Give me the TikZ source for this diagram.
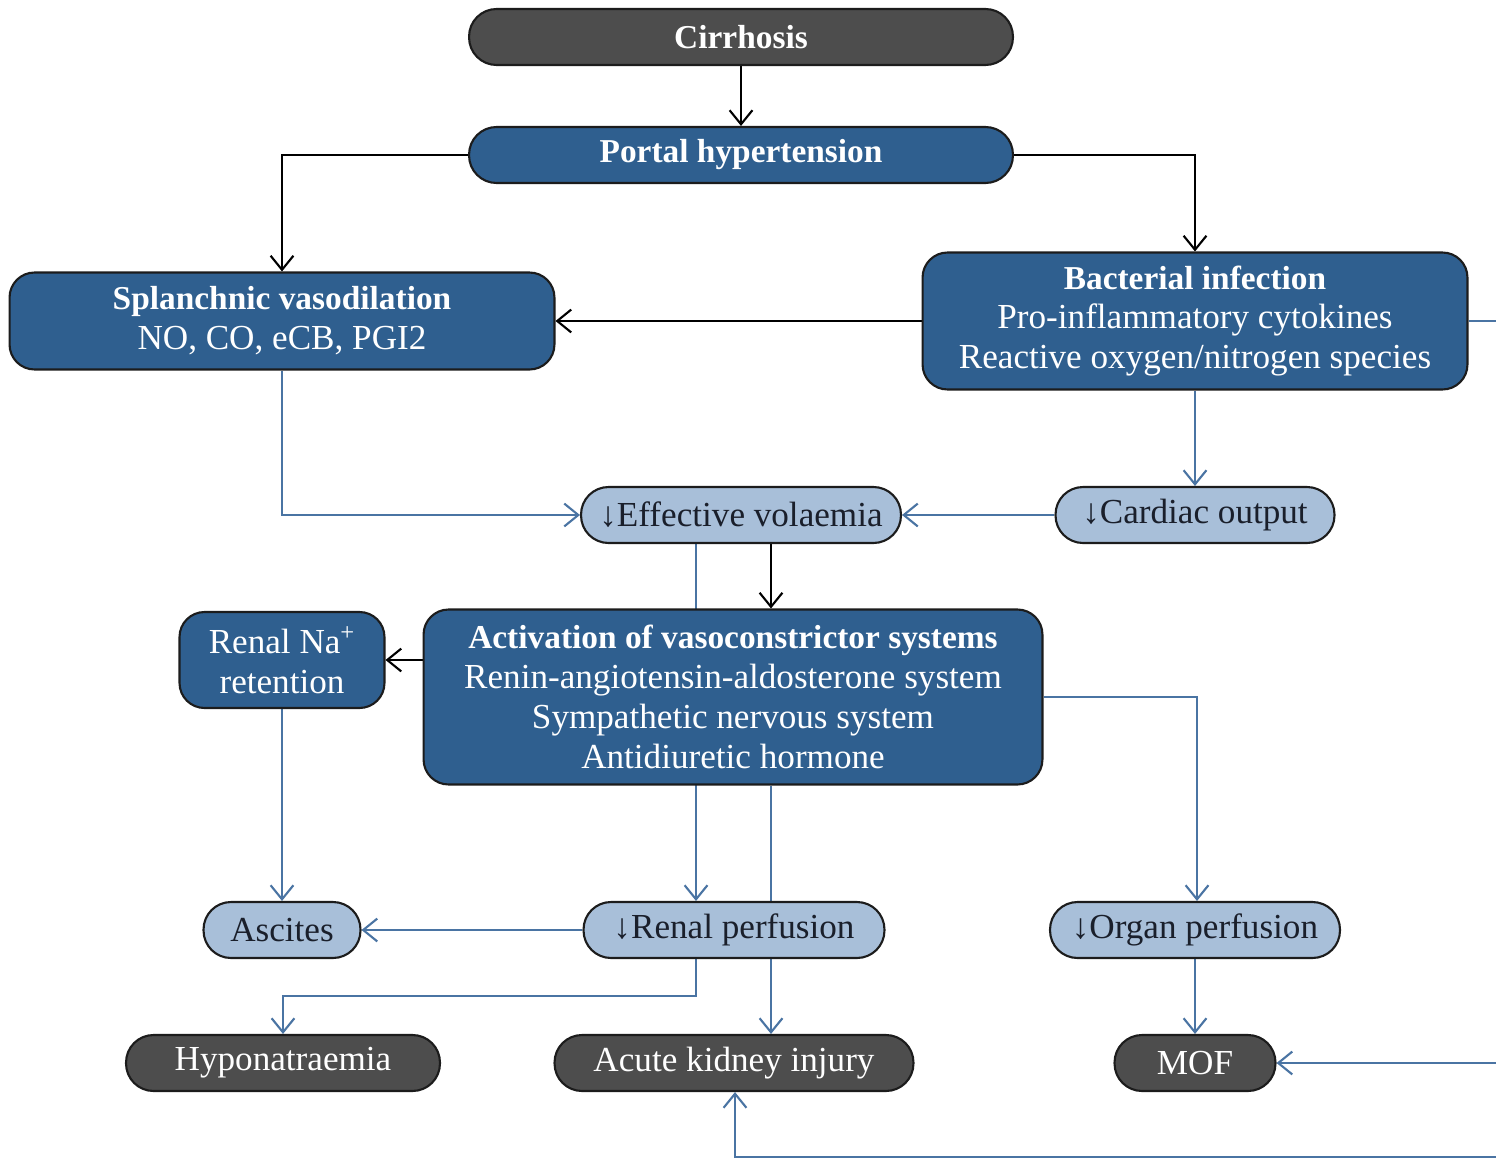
\documentclass[tikz,border=0pt]{standalone}
\usepackage{fontspec}
\setmainfont{Liberation Serif}
\usetikzlibrary{arrows.meta,backgrounds,calc}
\definecolor{dk}{HTML}{4D4D4D}
\definecolor{bl}{HTML}{2F5F8F}
\definecolor{lb}{HTML}{A8BFD9}
\definecolor{ln}{HTML}{4A74A3}
\definecolor{edgec}{HTML}{1C1C1C}
\definecolor{dtext}{HTML}{1A1F2B}
\newcommand{\hd}[1]{{\fontsize{19}{22.7}\selectfont\bfseries #1}}
\begin{document}
\begin{tikzpicture}[x=0.02cm,y=-0.02cm,
  box/.style={draw=edgec, line width=1.2pt, rounded corners=0.5cm, align=center, inner sep=0pt,
    font=\fontsize{20}{22.7}\selectfont},
  darkbox/.style={box, fill=dk, text=white},
  bluebox/.style={box, fill=bl, text=white},
  lightbox/.style={box, fill=lb, text=dtext},
  pill/.style={minimum height=1.12cm, rounded corners=0.55cm},
  tip/.style={-{Straight Barb[length=8pt,width=13pt]}},
  blk/.style={draw=black, line width=1.2pt, tip},
  blu/.style={draw=ln, line width=1.2pt, tip},
  blun/.style={draw=ln, line width=1.2pt}]
\useasboundingbox (0,0) rectangle (1496,1159);

% nodes
\node[darkbox, pill, minimum width=10.88cm] (cir) at (741,37) {\hd{Cirrhosis}};
\node[bluebox, pill, minimum width=10.88cm] (por) at (741,155) {\hd{Portal hypertension}};
\node[bluebox, minimum width=10.9cm, minimum height=1.94cm] (spl) at (282,321)
  {\hd{Splanchnic vasodilation}\\NO, CO, eCB, PGI2};
\node[bluebox, minimum width=10.9cm, minimum height=2.74cm] (bac) at (1195,321)
  {\hd{Bacterial infection}\\Pro-inflammatory cytokines\\Reactive oxygen/nitrogen species};
\node[lightbox, pill, minimum width=6.4cm] (eff) at (741,515) {↓Effective volaemia};
\node[lightbox, pill, minimum width=5.58cm] (car) at (1195,515) {↓Cardiac output};
\node[bluebox, minimum width=4.1cm, minimum height=1.92cm] (nar) at (282,660)
  {Renal Na\textsuperscript{+}\\retention};
\node[bluebox, minimum width=12.38cm, minimum height=3.5cm] (act) at (733,697)
  {\hd{Activation of vasoconstrictor systems}\\Renin-angiotensin-aldosterone system\\Sympathetic nervous system\\Antidiuretic hormone};
\node[lightbox, pill, minimum width=3.14cm] (asc) at (282,930) {Ascites};
\node[lightbox, pill, minimum width=6.02cm] (ren) at (734,930) {↓Renal perfusion};
\node[lightbox, pill, minimum width=5.8cm] (org) at (1195,930) {↓Organ perfusion};
\node[darkbox, pill, minimum width=6.28cm] (hyp) at (283,1063) {Hyponatraemia};
\node[darkbox, pill, minimum width=7.18cm] (aki) at (734,1063) {Acute kidney injury};
\node[darkbox, pill, minimum width=3.22cm] (mof) at (1195,1063) {MOF};

% helper coordinates
\coordinate (xa) at (696,0);
\coordinate (xb) at (771,0);
\coordinate (xc) at (1197,0);
\coordinate (xd) at (735,0);
\coordinate (xr) at (1530,0);
\coordinate (yb) at (0,996);
\coordinate (yl) at (0,1157);

\begin{scope}[on background layer]
\fill[white] (0,0) rectangle (1496,1159);
% black connectors
\draw[blk] (cir) -- (por);
\draw[blk] (por.west) -| (spl.north);
\draw[blk] (por.east) -| (bac.north);
\draw[blk] (bac.west) -- (spl.east);
\draw[blk] (eff.south -| xb) -- (act.north -| xb);
\draw[blk] (act.west |- nar.east) -- (nar.east);
% blue connectors
\draw[blu] (bac.south) -- (car.north);
\draw[blu] (car.west) -- (eff.east);
\draw[blu] (spl.south) |- (eff.west);
\draw[blu] (eff.south -| xa) -- (ren.north -| xa);
\draw[blu] (nar.south) -- (asc.north);
\draw[blu] (act.east |- 0,697) -| (org.north -| xc);
\draw[blu] (act.south -| xb) -- (aki.north -| xb);
\draw[blu] (ren.west) -- (asc.east);
\draw[blu] (ren.south -| xa) -- (xa |- yb) -| (hyp.north);
\draw[blu] (org.south) -- (mof.north);
\draw[blun] (bac.east) -- (xr |- bac.east) -- (xr |- yl);
\draw[blu] (xr |- mof.east) -- (mof.east);
\draw[blu] (xr |- yl) -- (xd |- yl) -- (aki.south -| xd);
\end{scope}
\end{tikzpicture}
\end{document}
